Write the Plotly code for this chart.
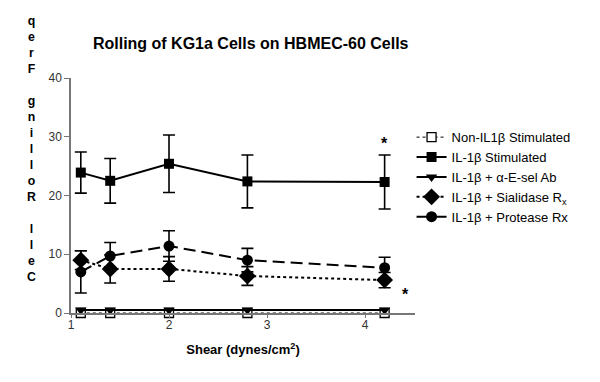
import plotly.graph_objects as go

shear = [1.1, 1.4, 2.0, 2.8, 4.2]

non_il1b = [0, 0, 0, 0, 0]
il1b = [23.9, 22.5, 25.4, 22.4, 22.3]
il1b_err = [3.5, 3.8, 4.9, 4.5, 4.6]
esel_ab = [0.5, 0.5, 0.5, 0.5, 0.5]
sialidase = [9.0, 7.5, 7.5, 6.3, 5.6]
sialidase_err = [1.6, 2.4, 2.1, 1.6, 1.3]
protease = [7.0, 9.7, 11.4, 9.0, 7.7]
protease_err = [3.6, 2.3, 2.6, 2.0, 1.8]

names = ["Non-IL1β Stimulated", "IL-1β Stimulated", "IL-1β + α-E-sel Ab",
         "IL-1β + Sialidase R<sub>x</sub>", "IL-1β + Protease Rx"]

x_ticks = [1, 2, 3, 4]
y_ticks = [0, 10, 20, 30, 40]
y_label = "Cell Rolling Freq"
title = "Rolling of KG1a Cells on HBMEC-60 Cells"

fig = go.Figure()

def err(a):
    return dict(type="data", array=a, visible=True, color="black", thickness=1.6, width=6)

fig.add_trace(go.Scatter(x=shear, y=non_il1b, name=names[0], mode="lines+markers",
    line=dict(color="black", width=1, dash="dot"),
    marker=dict(symbol="square", size=9, color="white", line=dict(color="black", width=1.3)),
    cliponaxis=False))
fig.add_trace(go.Scatter(x=shear, y=il1b, name=names[1], mode="lines+markers",
    line=dict(color="black", width=2),
    marker=dict(symbol="square", size=10, color="black"),
    error_y=err(il1b_err), cliponaxis=False))
fig.add_trace(go.Scatter(x=shear, y=esel_ab, name=names[2], mode="lines+markers",
    line=dict(color="black", width=2),
    marker=dict(symbol="triangle-down", size=10, color="black"),
    cliponaxis=False))
fig.add_trace(go.Scatter(x=shear, y=sialidase, name=names[3], mode="lines+markers",
    line=dict(color="black", width=2, dash="3px,3px"),
    marker=dict(symbol="diamond", size=13, color="black"),
    error_y=err(sialidase_err), cliponaxis=False))
fig.add_trace(go.Scatter(x=shear, y=protease, name=names[4], mode="lines+markers",
    line=dict(color="black", width=2, dash="12px,6px"),
    marker=dict(symbol="circle", size=11, color="black"),
    error_y=err(protease_err), cliponaxis=False))

fig.add_annotation(x=4.2, y=28.9, text="<b>*</b>", showarrow=False,
                   font=dict(size=16, color="black", family="Liberation Sans"))
fig.add_annotation(x=4.41, y=3.1, text="<b>*</b>", showarrow=False,
                   font=dict(size=16, color="black", family="Liberation Sans"))

stack = "<br>".join(reversed(list(y_label)))
fig.add_annotation(xref="paper", yref="paper", x=-0.116, y=0.70, xanchor="center", yanchor="middle",
                   text="<b>" + stack.replace(" ", "&nbsp;") + "</b>", showarrow=False,
                   font=dict(size=12.3, color="black", family="Liberation Sans"))

fig.update_layout(
    width=592, height=374,
    margin=dict(l=63, r=185, t=70, b=69),
    paper_bgcolor="white", plot_bgcolor="white",
    font=dict(family="Liberation Sans", color="black"),
    title=dict(text="<b>" + title + "</b>", x=0.41, xanchor="center", y=0.905, yanchor="middle",
               font=dict(size=16, color="black")),
    showlegend=True,
    legend=dict(x=0.99, xanchor="left", y=0.812, yanchor="top", itemwidth=30,
                font=dict(size=13, color="black"), tracegroupgap=0,
                bgcolor="rgba(0,0,0,0)"),
    xaxis=dict(range=[1, 4.51], tickvals=x_ticks, ticks="outside", ticklen=3,
               showline=True, linecolor="#777", linewidth=1.5, tickcolor="#777",
               showgrid=False, zeroline=False, ticklabelstandoff=-3,
               tickfont=dict(size=12, color="#333"),
               title=dict(text="<b>Shear (dynes/cm<sup>2</sup>)</b>", font=dict(size=13, color="black"),
                          standoff=14)),
    yaxis=dict(range=[0, 40], tickvals=y_ticks, ticks="outside", ticklen=5,
               showline=True, linecolor="#777", linewidth=1.5, tickcolor="#777",
               showgrid=False, zeroline=False,
               tickfont=dict(size=12, color="#333")),
)

fig.write_html("out.html")
